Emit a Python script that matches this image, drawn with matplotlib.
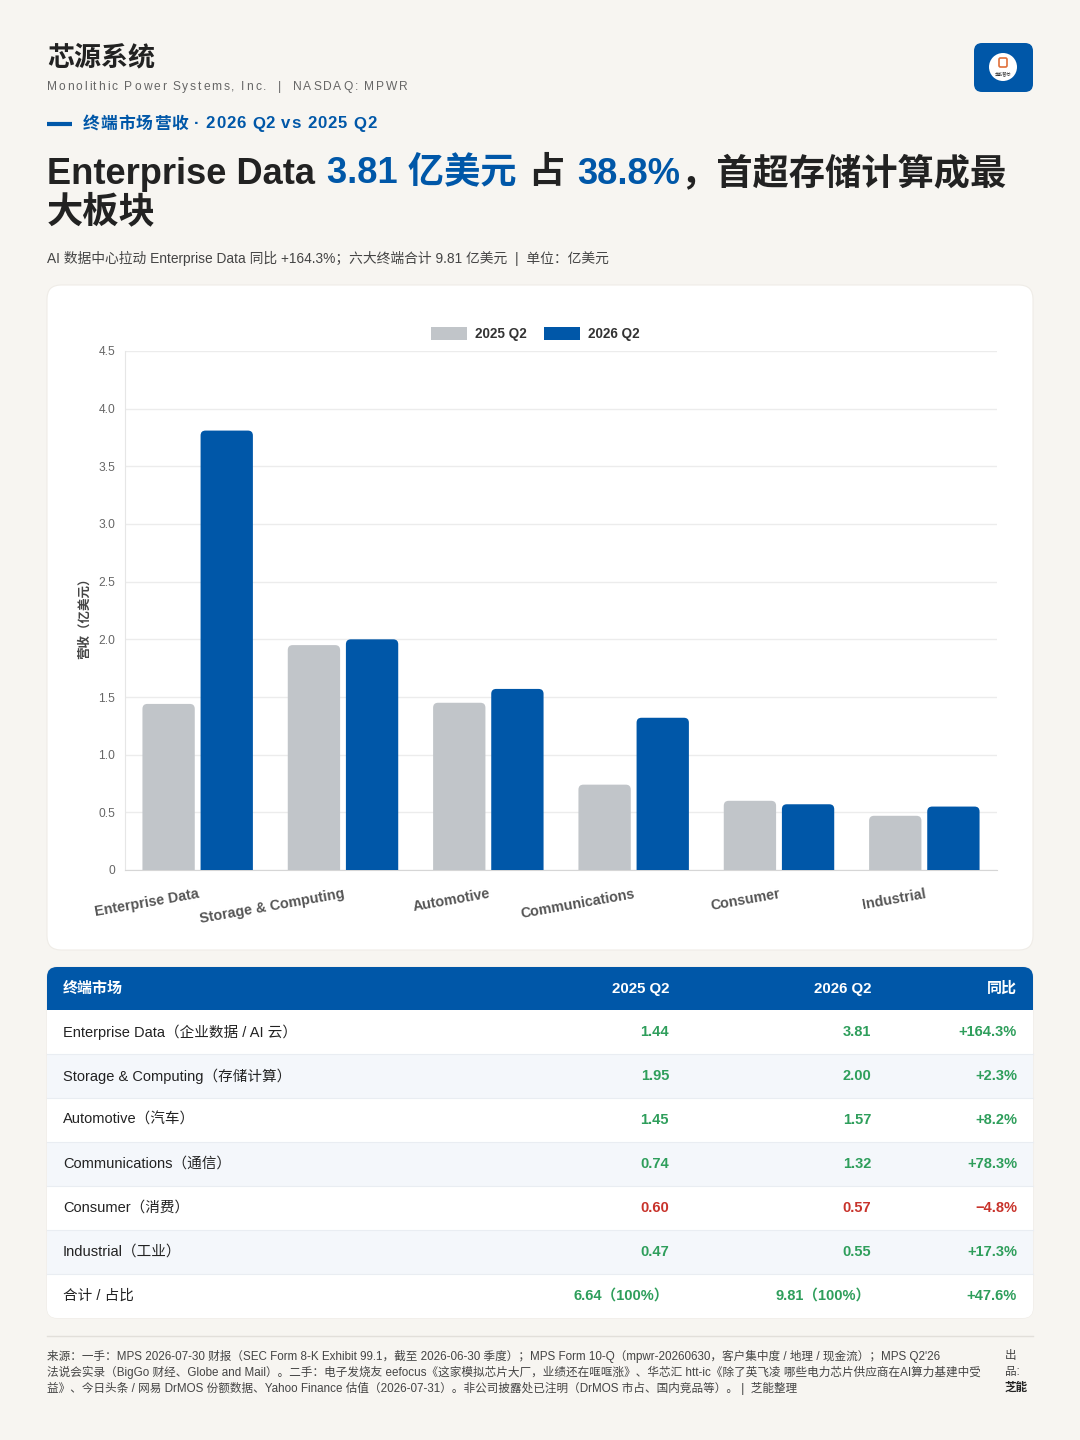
import matplotlib
matplotlib.use("Agg")
import numpy as np
import matplotlib.pyplot as plt
from matplotlib.patches import FancyBboxPatch, Rectangle, Circle, Patch

plt.rcParams['font.family'] = ['Liberation Sans', 'Noto Sans CJK SC', 'DejaVu Sans']

# ---- data -------------------------------------------------------------
segments = ["Enterprise Data", "Storage & Computing", "Automotive",
            "Communications", "Consumer", "Industrial"]
segments_cn = ["企业数据 / AI 云", "存储计算", "汽车", "通信", "消费", "工业"]
rev_2025 = [1.44, 1.95, 1.45, 0.74, 0.60, 0.47]
rev_2026 = [3.81, 2.00, 1.57, 1.32, 0.57, 0.55]
yoy_pct = [164.3, 2.3, 8.2, 78.3, -4.8, 17.3]
total_2025 = 6.64
total_2026 = 9.81
total_yoy = 47.6
series_labels = ["2025 Q2", "2026 Q2"]
y_ticks = [0, 0.5, 1.0, 1.5, 2.0, 2.5, 3.0, 3.5, 4.0, 4.5]

footer_lines = [
    "来源：一手：MPS 2026-07-30 财报（SEC Form 8-K Exhibit 99.1，截至 2026-06-30 季度）；MPS Form 10-Q（mpwr-20260630，客户集中度 / 地理 / 现金流）；MPS Q2'26",
    "法说会实录（BigGo 财经、Globe and Mail）。二手：电子发烧友 eefocus《这家模拟芯片大厂，业绩还在哐哐涨》、华芯汇 htt-ic《除了英飞凌 哪些电力芯片供应商在AI算力基建中受",
    "益》、今日头条 / 网易 DrMOS 份额数据、Yahoo Finance 估值（2026-07-31）。非公司披露处已注明（DrMOS 市占、国内竞品等）。 |  芝能整理",
]

BG = '#f7f5f1'
BLUE = '#0057a8'
GRAY = '#c1c5c9'
DARK = '#222222'
MID = '#555555'
GREEN = '#2e9e5b'
RED = '#c8332b'

W, H = 1080, 1440
fig = plt.figure(figsize=(W / 100, H / 100), dpi=100)
fig.patch.set_facecolor(BG)

# full-figure pixel canvas for cards, texts and the table
cv = fig.add_axes([0, 0, 1, 1], zorder=0)
cv.set_xlim(0, W)
cv.set_ylim(H, 0)
cv.axis('off')
renderer = fig.canvas.get_renderer()


def px(v):
    return v * 0.72


def text_run(x, y, parts, size, weight='bold', gap=0.0):
    for s, color in parts:
        if s == ' ':
            x += size * 0.35 + gap
            continue
        t = cv.text(x, y, s, fontsize=size, color=color, fontweight=weight,
                    va='center', ha='left')
        x += t.get_window_extent(renderer).width + gap
    return x


# ---- header -----------------------------------------------------------
cv.text(47, 58, "芯源系统", fontsize=px(27), fontweight='bold', color=DARK, va='center')
text_run(47, 87, [(c, '#666666') for c in "Monolithic Power Systems, Inc.  |  NASDAQ: MPWR"],
         px(12), weight='normal', gap=1.85)

cv.add_patch(FancyBboxPatch((974, 43), 59, 49, boxstyle="round,pad=0,rounding_size=8",
                            fc=BLUE, ec='none'))
cv.add_patch(Circle((1003, 67), 14, fc='white', ec='none'))
cv.add_patch(FancyBboxPatch((999, 58), 8, 9, boxstyle="round,pad=0,rounding_size=1.5",
                            fc='none', ec='#e0703a', lw=1.2))
cv.text(1003, 73.5, "芝能智芯", fontsize=3, color='#333333', ha='center', va='center')

cv.plot([47, 72], [124, 124], color=BLUE, lw=3, solid_capstyle='butt')
text_run(83, 124, [(c, BLUE) for c in "终端市场营收 · 2026 Q2 vs 2025 Q2"], px(16.8), gap=0.9)

tsize = px(36.3)
x = text_run(47, 174, [("Enterprise Data", DARK)], tsize)
x = text_run(x + 12, 174, [("3.81 亿美元", BLUE)], tsize)
x = text_run(x + 12, 174, [("占", DARK)], tsize)
x = text_run(x + 12, 174, [("38.8%", BLUE), ("，首超存储计算成最", DARK)], tsize)
cv.text(47, 213, "大板块", fontsize=tsize, fontweight='bold', color=DARK, va='center')

cv.text(47, 258, "AI 数据中心拉动 Enterprise Data 同比 +164.3%；六大终端合计 9.81 亿美元  |  单位：亿美元",
        fontsize=px(13.8), color='#444444', va='center')

# ---- chart card -------------------------------------------------------
cv.add_patch(FancyBboxPatch((47, 285), 986, 665, boxstyle="round,pad=0,rounding_size=14",
                            fc='white', ec='#efece7', lw=0.8))
cv.text(85, 615, "营收（亿美元）", fontsize=px(12.5), fontweight='bold', color='#444444',
        rotation=90, ha='center', va='center')

ax = fig.add_axes([125 / W, 1 - 870 / H, 872 / W, 519 / H], zorder=2)
ax.patch.set_alpha(0)
xi = np.arange(len(segments))
bars_a = ax.bar(xi - 0.2, rev_2025, 0.36, color=GRAY)
bars_b = ax.bar(xi + 0.2, rev_2026, 0.36, color=BLUE)

# rounded tops: replace each bar by a rounded box of the same extent
aspect = (1 / 115.3) / (1 / 145.3)
for bars, col in ((bars_a, GRAY), (bars_b, BLUE)):
    for b in bars:
        b.set_visible(False)
        ax.add_patch(FancyBboxPatch((b.get_x(), -0.1), b.get_width(), b.get_height() + 0.1,
                                    boxstyle="round,pad=0,rounding_size=0.034",
                                    mutation_aspect=aspect, fc=col, ec='none', zorder=3))

ax.set_xlim(-0.5, len(segments) - 0.5)
ax.set_ylim(0, 4.5)
ax.set_yticks(y_ticks, labels=["0" if v == 0 else f"{v:.1f}" for v in y_ticks])
ax.set_xticks(xi, labels=segments)
ax.tick_params(axis='y', length=0, pad=7, labelsize=px(12), labelcolor='#666666')
ax.tick_params(axis='x', length=0, pad=12, labelsize=px(14.3), labelcolor=MID)
plt.setp(ax.get_xticklabels(), rotation=10, ha='right', va='top', rotation_mode='anchor',
         fontweight='bold')
ax.grid(axis='y', color='#ececec', lw=1)
ax.set_axisbelow(True)
for side in ('top', 'right'):
    ax.spines[side].set_visible(False)
ax.spines['left'].set_color('#e6e6e6')
ax.spines['bottom'].set_color('#d6d6d6')

fig.legend(handles=[Patch(fc=GRAY, ec='none'), Patch(fc=BLUE, ec='none')],
           labels=series_labels, loc='center', bbox_to_anchor=(535 / W, 1 - 334 / H),
           ncol=2, frameon=False, handlelength=2.7, handleheight=1.1, handletextpad=0.55,
           columnspacing=1.3, prop={'size': px(13.5), 'weight': 'bold'}, labelcolor='#333333')

# ---- table ------------------------------------------------------------
tx0, tx1 = 47, 1033
ty0, hdr_h, row_h = 967, 43, 44
n_rows = len(segments) + 1
cv.add_patch(FancyBboxPatch((tx0, ty0), tx1 - tx0, hdr_h + row_h * n_rows,
                            boxstyle="round,pad=0,rounding_size=10", fc='white', ec='#efece7', lw=0.8))
cv.add_patch(FancyBboxPatch((tx0, ty0), tx1 - tx0, hdr_h + 12,
                            boxstyle="round,pad=0,rounding_size=10", fc=BLUE, ec='none'))
col_x = [63, 669, 871, 1017]
hy = ty0 + hdr_h / 2
for cx, lab, ha in zip(col_x, ["终端市场", "2025 Q2", "2026 Q2", "同比"],
                       ['left', 'right', 'right', 'right']):
    cv.text(cx, hy, lab, fontsize=px(15), fontweight='bold', color='white', ha=ha, va='center')

rows = []
for en, cn, a, b, p in zip(segments, segments_cn, rev_2025, rev_2026, yoy_pct):
    rows.append((f"{en}（{cn}）", f"{a:.2f}", f"{b:.2f}", p))
rows.append(("合计 / 占比", f"{total_2025:.2f}（100%）", f"{total_2026:.2f}（100%）", total_yoy))

for i, (lab, a, b, p) in enumerate(rows):
    y0 = ty0 + hdr_h + i * row_h
    fc = '#f4f7fb' if i % 2 == 1 else 'white'
    if i < n_rows - 1:
        cv.add_patch(Rectangle((tx0, y0), tx1 - tx0, row_h, fc=fc, ec='none'))
        cv.plot([tx0, tx1], [y0 + row_h, y0 + row_h], color='#e9edf2', lw=0.8)
    else:
        cv.add_patch(FancyBboxPatch((tx0, y0), tx1 - tx0, row_h,
                                    boxstyle="round,pad=0,rounding_size=10", fc=fc, ec='none'))
        cv.add_patch(Rectangle((tx0, y0), tx1 - tx0, 12, fc=fc, ec='none'))
    cy = y0 + row_h / 2
    col = GREEN if p > 0 else RED
    cv.text(col_x[0], cy, lab, fontsize=px(14.6), color=DARK, ha='left', va='center')
    cv.text(col_x[1], cy, a, fontsize=px(14.6), color=col, fontweight='bold', ha='right', va='center')
    cv.text(col_x[2], cy, b, fontsize=px(14.6), color=col, fontweight='bold', ha='right', va='center')
    cv.text(col_x[3], cy, f"{p:+.1f}%".replace('-', '−'), fontsize=px(14.6), color=col,
            fontweight='bold', ha='right', va='center')

# ---- footer -----------------------------------------------------------
fsize = px(11.6)
cv.plot([47, 1033], [1336, 1336], color='#e2dfda', lw=1)
for k, line in enumerate(footer_lines):
    cv.text(47, 1356 + 16 * k, line, fontsize=fsize, color='#444444', va='center')
cv.text(1005, 1356, "出", fontsize=fsize, color='#444444', va='center')
cv.text(1005, 1372, "品:", fontsize=fsize, color='#444444', va='center')
cv.text(1005, 1388, "芝能", fontsize=fsize, color='#222222', fontweight='bold', va='center')

fig.savefig("out.png", dpi=100, facecolor=BG)
